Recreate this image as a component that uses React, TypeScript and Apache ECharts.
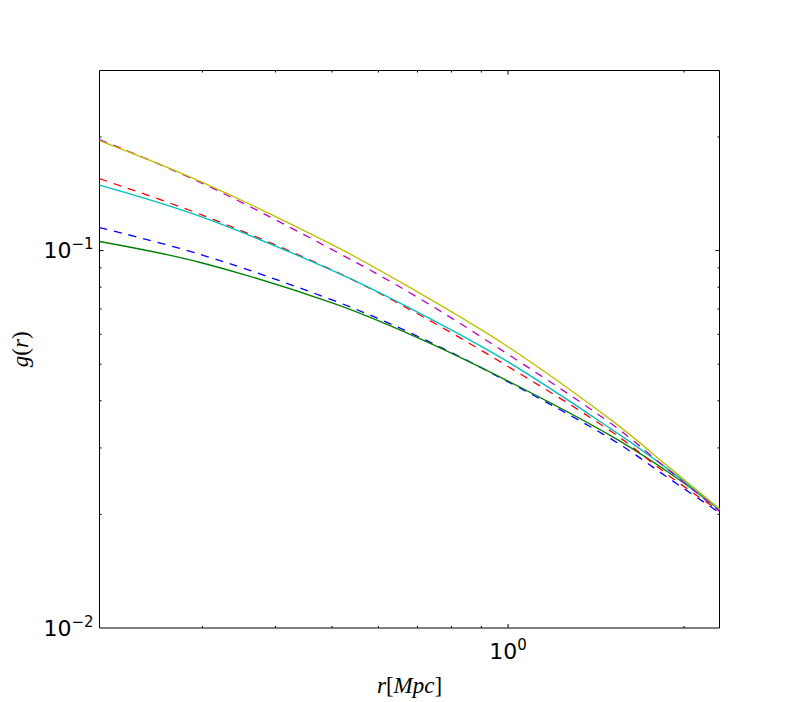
import React, { useEffect, useRef } from "react";
import * as echarts from "echarts";

// radius r [Mpc]
const rValues = [0.2, 0.3, 0.5, 0.7, 1.0, 1.5, 1.9, 2.3];
// g(r) curves (matplotlib classic colour cycle order b, g, r, c, m, y)
const blueDashed = [0.1151, 0.0973, 0.074, 0.0593, 0.0449, 0.0317, 0.0247, 0.0202];
const greenSolid = [0.1057, 0.0927, 0.0727, 0.0588, 0.0451, 0.0323, 0.0256, 0.0206];
const redDashed = [0.155, 0.1241, 0.0888, 0.068, 0.0493, 0.0332, 0.0251, 0.0204];
const cyanSolid = [0.1491, 0.1226, 0.0886, 0.0687, 0.0507, 0.0337, 0.026, 0.0206];
const magentaDashed = [0.1968, 0.1507, 0.1006, 0.0752, 0.0531, 0.0348, 0.0259, 0.0204];
const yellowSolid = [0.1956, 0.1516, 0.1037, 0.0777, 0.0556, 0.0356, 0.0264, 0.0207];

// axis extents
const X_MIN = 0.2;
const X_MAX = 2.3;
const Y_MIN = 0.01;
const Y_MAX = 0.3;

// ticks
const xMajorTicks = [1];
const xMinorTicks = [0.3, 0.4, 0.5, 0.6, 0.7, 0.8, 0.9, 2];
const yMajorTicks = [0.1];
const yMinorTicks = [0.02, 0.03, 0.04, 0.05, 0.06, 0.07, 0.08, 0.09, 0.2];

const seriesDefs = [
  { name: "b--", data: blueDashed, color: "#0000ff", dashed: true },
  { name: "g-", data: greenSolid, color: "#008000", dashed: false },
  { name: "r--", data: redDashed, color: "#ff0000", dashed: true },
  { name: "c-", data: cyanSolid, color: "#00bfbf", dashed: false },
  { name: "m--", data: magentaDashed, color: "#bf00bf", dashed: true },
  { name: "y-", data: yellowSolid, color: "#bfbf00", dashed: false },
];

function powLabel(v: number): string {
  const l = Math.log10(v);
  const p = Math.round(l);
  if (Math.abs(l - p) > 1e-6) return "";
  const exp = p < 0 ? "\u2212" + Math.abs(p) : String(p);
  return "{b|10}{s|" + exp + "}";
}

const labelRich = {
  b: { fontSize: 22, fontFamily: "DejaVu Sans", color: "#000", lineHeight: 28 },
  s: { fontSize: 15, fontFamily: "DejaVu Sans", color: "#000", lineHeight: 15, verticalAlign: "top" as const },
};

const nameRich = {
  i: { fontSize: 23, fontFamily: "Liberation Serif", fontStyle: "italic" as const, color: "#000" },
  n: { fontSize: 23, fontFamily: "Liberation Serif", color: "#000" },
};

export default function App() {
  const ref = useRef<HTMLDivElement>(null);

  useEffect(() => {
    if (!ref.current) return;
    const chart = echarts.init(ref.current, null, { renderer: "svg" });

    const tickData: number[][] = [];
    xMajorTicks.forEach((v) => tickData.push([v, Y_MIN, 0]));
    xMinorTicks.forEach((v) => tickData.push([v, Y_MIN, 1]));
    yMajorTicks.forEach((v) => tickData.push([X_MIN, v, 2]));
    yMinorTicks.forEach((v) => tickData.push([X_MIN, v, 3]));

    const lineSeries = seriesDefs.map((s) => ({
      name: s.name,
      type: "line",
      data: rValues.map((r, i) => [r, s.data[i]]),
      smooth: 0.35,
      showSymbol: false,
      symbol: "none",
      lineStyle: {
        color: s.color,
        width: 1.3,
        type: s.dashed ? [8, 7] : "solid",
      },
      itemStyle: { color: s.color },
      silent: true,
    }));

    const option: any = {
      animation: false,
      backgroundColor: "#ffffff",
      grid: {
        left: 99.5,
        right: 80.5,
        top: 70.5,
        bottom: 71.5,
        show: true,
        borderColor: "#000",
        borderWidth: 1,
        backgroundColor: "transparent",
        containLabel: false,
      },
      xAxis: {
        type: "log",
        logBase: 10,
        min: X_MIN,
        max: X_MAX,
        name: "{i|r}{n|[}{i|Mpc}{n|]}",
        nameLocation: "middle",
        nameGap: 46,
        nameTextStyle: { rich: nameRich },
        axisLine: { show: false },
        axisTick: { show: false },
        minorTick: { show: false },
        splitLine: { show: false },
        axisLabel: {
          formatter: (v: number) => powLabel(v),
          rich: labelRich,
          margin: 9,
          showMinLabel: true,
          showMaxLabel: true,
        },
      },
      yAxis: {
        type: "log",
        logBase: 10,
        min: Y_MIN,
        max: Y_MAX,
        name: "{i|g}{n|(}{i|r}{n|)}",
        nameLocation: "middle",
        nameGap: 62,
        nameTextStyle: { rich: nameRich },
        axisLine: { show: false },
        axisTick: { show: false },
        minorTick: { show: false },
        splitLine: { show: false },
        axisLabel: {
          formatter: (v: number) => powLabel(v),
          rich: labelRich,
          margin: 6,
        },
      },
      series: [
        ...lineSeries,
        {
          type: "custom",
          silent: true,
          z: 10,
          clip: false,
          data: tickData,
          renderItem: (params: any, api: any) => {
            const v0 = api.value(0);
            const v1 = api.value(1);
            const kind = api.value(2);
            const len = kind % 2 === 0 ? 4 : 2;
            const st = { stroke: "#000", lineWidth: 1 };
            if (kind < 2) {
              const b = api.coord([v0, Y_MIN]);
              const t = api.coord([v0, Y_MAX]);
              return {
                type: "group",
                children: [
                  { type: "line", shape: { x1: b[0], y1: b[1], x2: b[0], y2: b[1] - len }, style: st },
                  { type: "line", shape: { x1: t[0], y1: t[1], x2: t[0], y2: t[1] + len }, style: st },
                ],
              };
            }
            const l = api.coord([X_MIN, v1]);
            const r = api.coord([X_MAX, v1]);
            return {
              type: "group",
              children: [
                { type: "line", shape: { x1: l[0], y1: l[1], x2: l[0] + len, y2: l[1] }, style: st },
                { type: "line", shape: { x1: r[0], y1: r[1], x2: r[0] - len, y2: r[1] }, style: st },
              ],
            };
          },
        },
      ],
    };

    chart.setOption(option);
    return () => {
      chart.dispose();
    };
  }, []);

  return (
    <div
      ref={ref}
      style={{ position: "fixed", left: 0, top: 0, width: 800, height: 702, background: "#fff" }}
    />
  );
}
